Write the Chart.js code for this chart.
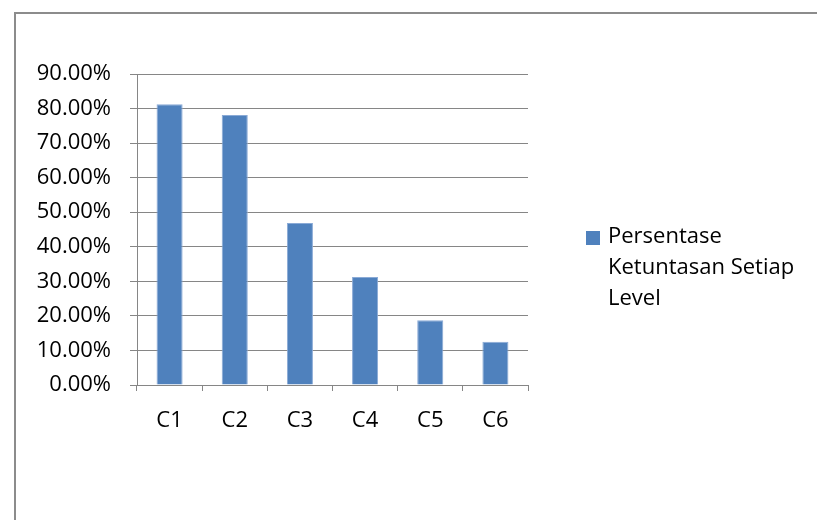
<!DOCTYPE html>
<html>
<head>
<meta charset="utf-8">
<script src="https://cdn.jsdelivr.net/npm/chart.js@4/dist/chart.umd.min.js"></script>
<style>
  html, body { margin: 0; padding: 0; background: #fff; }
  #wrap { position: relative; width: 817px; height: 520px; }
</style>
</head>
<body>
<div id="wrap"><canvas id="chart1" width="817" height="520"></canvas></div>
<script>
// data
const categories = ["C1", "C2", "C3", "C4", "C5", "C6"];
const percentValues = [81.25, 78.13, 46.88, 31.25, 18.75, 12.5];
const legendLines = ["Persentase", "Ketuntasan Setiap", "Level"];
const yMax = 90;
const yStep = 10;

const barColor = "#4F81BD";
const axisGray = "#868686";
const fontFamily = "'Open Sans', Lato, sans-serif";
const fontSize = 22;

// outer frame (top and left edges of the Excel chart box)
const framePlugin = {
  id: "frame",
  beforeDraw(chart) {
    const ctx = chart.ctx;
    ctx.save();
    ctx.fillStyle = "#fff";
    ctx.fillRect(0, 0, chart.width, chart.height);
    ctx.strokeStyle = "#8c8c8c";
    ctx.lineWidth = 2;
    ctx.beginPath();
    ctx.moveTo(15, chart.height);
    ctx.lineTo(15, 13);
    ctx.lineTo(chart.width, 13);
    ctx.stroke();
    ctx.restore();
  },
};

// legend on the right, wrapped over several lines like Excel
const sideLegend = {
  id: "sideLegend",
  afterDraw(chart) {
    const ctx = chart.ctx;
    const ds = chart.data.datasets[0];
    ctx.save();
    ctx.fillStyle = ds.backgroundColor;
    ctx.fillRect(586, 231, 14, 14);
    ctx.fillStyle = "#000";
    ctx.font = fontSize + "px " + fontFamily;
    ctx.textBaseline = "middle";
    ctx.textAlign = "left";
    legendLines.forEach(function (line, i) {
      ctx.fillText(line, 608, 237 + i * 31);
    });
    ctx.restore();
  },
};

new Chart(document.getElementById("chart1"), {
  type: "bar",
  data: {
    labels: categories,
    datasets: [
      {
        label: legendLines.join(" "),
        data: percentValues,
        backgroundColor: barColor,
        borderColor: "#8aaad6",
        borderWidth: { top: 1, left: 1, right: 1, bottom: 0 },
        barPercentage: 0.4,
        categoryPercentage: 1.0,
      },
    ],
  },
  options: {
    responsive: false,
    animation: false,
    layout: { padding: { left: 0, top: 74, right: 289, bottom: 0 } },
    plugins: {
      legend: { display: false },
      tooltip: { enabled: false },
    },
    scales: {
      x: {
        grid: {
          offset: true,
          drawOnChartArea: false,
          drawTicks: true,
          tickLength: 6,
          color: axisGray,
        },
        border: { color: axisGray, width: 1 },
        ticks: {
          color: "#000",
          font: { family: fontFamily, size: fontSize },
          padding: 17,
          maxRotation: 0,
        },
        afterFit(scale) { scale.height = 135; },
      },
      y: {
        min: 0,
        max: yMax,
        grid: {
          color: axisGray,
          drawTicks: true,
          tickLength: 7,
        },
        border: { color: axisGray, width: 1 },
        ticks: {
          stepSize: yStep,
          color: "#000",
          font: { family: fontFamily, size: fontSize },
          padding: 19,
          callback: function (v) { return v.toFixed(2) + "%"; },
        },
        afterFit(scale) { scale.width = 137; },
      },
    },
  },
  plugins: [framePlugin, sideLegend],
});
</script>
</body>
</html>
